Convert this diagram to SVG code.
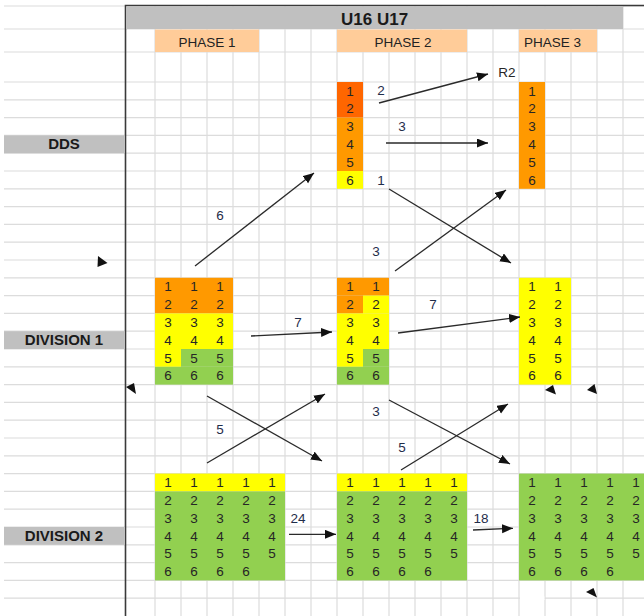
<svg xmlns="http://www.w3.org/2000/svg" width="644" height="616" viewBox="0 0 644 616">
<style>
.g{stroke:#DCDCDC;stroke-width:1.2;fill:none}
.b{stroke:#3a3a3a;stroke-width:1.6;fill:none}
.n{font-family:"Liberation Sans",Arial,sans-serif;font-size:13.5px;fill:#262626;text-anchor:middle}
.lbl{font-family:"Liberation Sans",Arial,sans-serif;font-size:13.5px;fill:#1f2d4a;text-anchor:middle}
.hd{font-family:"Liberation Sans",Arial,sans-serif;font-size:13.5px;fill:#222;text-anchor:middle}
.side{font-family:"Liberation Sans",Arial,sans-serif;font-size:15px;font-weight:bold;fill:#1a1a1a;text-anchor:middle}
.a{stroke:#2a2a2a;stroke-width:1.3;fill:none;marker-end:url(#ah)}
.do{fill:#FF6600}.o{fill:#FF9900}.y{fill:#FFFF00}.gr{fill:#92D050}.pk{fill:#FFCC99}.gy{fill:#C0C0C0}
</style>
<defs>
<marker id="ah" markerUnits="userSpaceOnUse" markerWidth="12" markerHeight="10" refX="11" refY="4.5" orient="auto">
<path d="M0,0 L11,4.5 L0,9 z" fill="#111"/>
</marker>
</defs>
<rect width="644" height="616" fill="#fff"/>
<g id="grid">
<path class="g" d="M4,6H644M4,29H644M4,52H644M4,82H644M4,99.8H644M4,117.6H644M4,135.4H644M4,153.2H644M4,171H644M4,188.8H644M4,206.6H644M4,224.4H644M4,242.2H644M4,260H644M4,277.8H644M4,295.6H644M4,313.4H644M4,331.2H644M4,349H644M4,366.8H644M4,384.6H644M4,402.4H644M4,420.2H644M4,438H644M4,455.8H644M4,473.6H644M4,491.4H644M4,509.2H644M4,527H644M4,544.8H644M4,562.6H644M4,580.4H644M4,598.2H644"/>
<path class="g" d="M155,6V616M181,6V616M207,6V616M233,6V616M259,6V616M285,6V616M311,6V616M337,6V616M363,6V616M389,6V616M415,6V616M441,6V616M467,6V616M493,6V616M519,6V616M545,6V616M571,6V616M597,6V616M623,6V616"/>
<rect x="520" y="596.5" width="24.5" height="3.5" fill="#fff"/>
<path class="b" d="M125.5,616V5.5H644"/>
</g>
<g id="header">
<rect class="gy" x="126" y="6.5" width="497" height="22.5"/>
<text x="341" y="25" style="font-family:'Liberation Sans',Arial,sans-serif;font-size:17px;font-weight:bold;fill:#1a1a1a">U16 U17</text>
</g>
<g id="phase1"><rect class="pk" x="155" y="29.5" width="104" height="22.5"/><text class="hd" x="207" y="47">PHASE 1</text></g>
<g id="phase2"><rect class="pk" x="337" y="29.5" width="130" height="22.5"/><text class="hd" x="403" y="47">PHASE 2</text></g>
<g id="phase3"><rect class="pk" x="519" y="29.5" width="78" height="22.5"/><text class="hd" x="552.5" y="47">PHASE 3</text></g>
<g id="label-dds"><rect class="gy" x="4" y="135.4" width="121" height="17.8"/><text class="side" x="64" y="149">DDS</text></g>
<g id="label-div1"><rect class="gy" x="4" y="331.2" width="121" height="17.8"/><text class="side" x="64" y="345">DIVISION 1</text></g>
<g id="label-div2"><rect class="gy" x="4" y="527" width="121" height="17.8"/><text class="side" x="64" y="541">DIVISION 2</text></g>

<g id="dds-p2">
<rect class="do" x="337" y="82" width="26" height="35.6"/>
<rect class="o" x="337" y="117.6" width="26" height="53.4"/>
<rect class="y" x="337" y="171" width="26" height="17.8"/>
<text class="n" x="350" y="95.5">1</text><text class="n" x="350" y="113.3">2</text><text class="n" x="350" y="131.1">3</text><text class="n" x="350" y="148.9">4</text><text class="n" x="350" y="166.7">5</text><text class="n" x="350" y="184.5">6</text>
</g>
<g id="dds-p3">
<rect class="o" x="519" y="82" width="26" height="106.8"/>
<text class="n" x="532" y="95.5">1</text><text class="n" x="532" y="113.3">2</text><text class="n" x="532" y="131.1">3</text><text class="n" x="532" y="148.9">4</text><text class="n" x="532" y="166.7">5</text><text class="n" x="532" y="184.5">6</text>
</g>
<g id="r2"><text class="n" x="507" y="77">R2</text></g>

<g id="div1-p1">
<rect class="o" x="155" y="277.8" width="78" height="35.6"/>
<rect class="y" x="155" y="313.4" width="78" height="35.6"/>
<rect class="y" x="155" y="349" width="26" height="17.8"/>
<rect class="gr" x="181" y="349" width="52" height="17.8"/>
<rect class="gr" x="155" y="366.8" width="78" height="17.8"/>
<text class="n" x="168 194 220" y="291.3">111</text>
<text class="n" x="168 194 220" y="309.1">222</text>
<text class="n" x="168 194 220" y="326.9">333</text>
<text class="n" x="168 194 220" y="344.7">444</text>
<text class="n" x="168 194 220" y="362.5">555</text>
<text class="n" x="168 194 220" y="380.3">666</text>
</g>
<g id="div1-p2">
<rect class="o" x="337" y="277.8" width="52" height="17.8"/>
<rect class="o" x="337" y="295.6" width="26" height="17.8"/>
<rect class="y" x="363" y="295.6" width="26" height="17.8"/>
<rect class="y" x="337" y="313.4" width="52" height="35.6"/>
<rect class="y" x="337" y="349" width="26" height="17.8"/>
<rect class="gr" x="363" y="349" width="26" height="17.8"/>
<rect class="gr" x="337" y="366.8" width="52" height="17.8"/>
<text class="n" x="350 376" y="291.3">11</text>
<text class="n" x="350 376" y="309.1">22</text>
<text class="n" x="350 376" y="326.9">33</text>
<text class="n" x="350 376" y="344.7">44</text>
<text class="n" x="350 376" y="362.5">55</text>
<text class="n" x="350 376" y="380.3">66</text>
</g>
<g id="div1-p3">
<rect class="y" x="519" y="277.8" width="52" height="106.8"/>
<text class="n" x="532 558" y="291.3">11</text>
<text class="n" x="532 558" y="309.1">22</text>
<text class="n" x="532 558" y="326.9">33</text>
<text class="n" x="532 558" y="344.7">44</text>
<text class="n" x="532 558" y="362.5">55</text>
<text class="n" x="532 558" y="380.3">66</text>
</g>

<g id="div2-p1">
<rect class="y" x="155" y="473.6" width="130" height="17.8"/>
<rect class="gr" x="155" y="491.4" width="130" height="89"/>
<text class="n" x="168 194 220 246 272" y="487.1">11111</text>
<text class="n" x="168 194 220 246 272" y="504.9">22222</text>
<text class="n" x="168 194 220 246 272" y="522.7">33333</text>
<text class="n" x="168 194 220 246 272" y="540.5">44444</text>
<text class="n" x="168 194 220 246 272" y="558.3">55555</text>
<text class="n" x="168 194 220 246" y="576.1">6666</text>
</g>
<g id="div2-p2">
<rect class="y" x="337" y="473.6" width="130" height="17.8"/>
<rect class="gr" x="337" y="491.4" width="130" height="89"/>
<text class="n" x="350 376 402 428 454" y="487.1">11111</text>
<text class="n" x="350 376 402 428 454" y="504.9">22222</text>
<text class="n" x="350 376 402 428 454" y="522.7">33333</text>
<text class="n" x="350 376 402 428 454" y="540.5">44444</text>
<text class="n" x="350 376 402 428 454" y="558.3">55555</text>
<text class="n" x="350 376 402 428" y="576.1">6666</text>
</g>
<g id="div2-p3">
<rect class="gr" x="519" y="473.6" width="125" height="106.8"/>
<text class="n" x="532 558 584 610 636" y="487.1">11111</text>
<text class="n" x="532 558 584 610 636" y="504.9">22222</text>
<text class="n" x="532 558 584 610 636" y="522.7">33333</text>
<text class="n" x="532 558 584 610 636" y="540.5">44444</text>
<text class="n" x="532 558 584 610 636" y="558.3">55555</text>
<text class="n" x="532 558 584 610" y="576.1">6666</text>
</g>

<g id="connectors">
<line class="a" x1="195" y1="266" x2="314" y2="173"/>
<line class="a" x1="379" y1="103" x2="488" y2="74"/>
<line class="a" x1="386" y1="143" x2="488" y2="143"/>
<line class="a" x1="389" y1="189" x2="511" y2="263"/>
<line class="a" x1="395" y1="271" x2="506" y2="190"/>
<line class="a" x1="251" y1="336" x2="332" y2="332"/>
<line class="a" x1="398" y1="333" x2="520" y2="317"/>
<line class="a" x1="207" y1="396" x2="322" y2="461"/>
<line class="a" x1="207" y1="463" x2="325" y2="394"/>
<line class="a" x1="389" y1="400" x2="510" y2="464"/>
<line class="a" x1="401" y1="470" x2="508" y2="404"/>
<line class="a" x1="289" y1="534.3" x2="336" y2="534.3"/>
<line class="a" x1="473" y1="530" x2="513" y2="528.3"/>
<g fill="#111">
<polygon points="98,256 107.5,263 97.5,267"/>
<polygon points="126,387 134,383 136,394"/>
<polygon points="545,390 553,385 556,394.5"/>
<polygon points="587,390 594.5,384 597,394"/>
<polygon points="586,592 593.5,588 597,597.5"/>
</g>
<text class="lbl" x="220" y="220">6</text>
<text class="lbl" x="381" y="95">2</text>
<text class="lbl" x="402" y="131">3</text>
<text class="lbl" x="381" y="185">1</text>
<text class="lbl" x="376" y="256">3</text>
<text class="lbl" x="298" y="327">7</text>
<text class="lbl" x="433" y="309">7</text>
<text class="lbl" x="220" y="434">5</text>
<text class="lbl" x="376" y="416">3</text>
<text class="lbl" x="402" y="452">5</text>
<text class="lbl" x="298" y="523">24</text>
<text class="lbl" x="481" y="523">18</text>
</g>
</svg>
